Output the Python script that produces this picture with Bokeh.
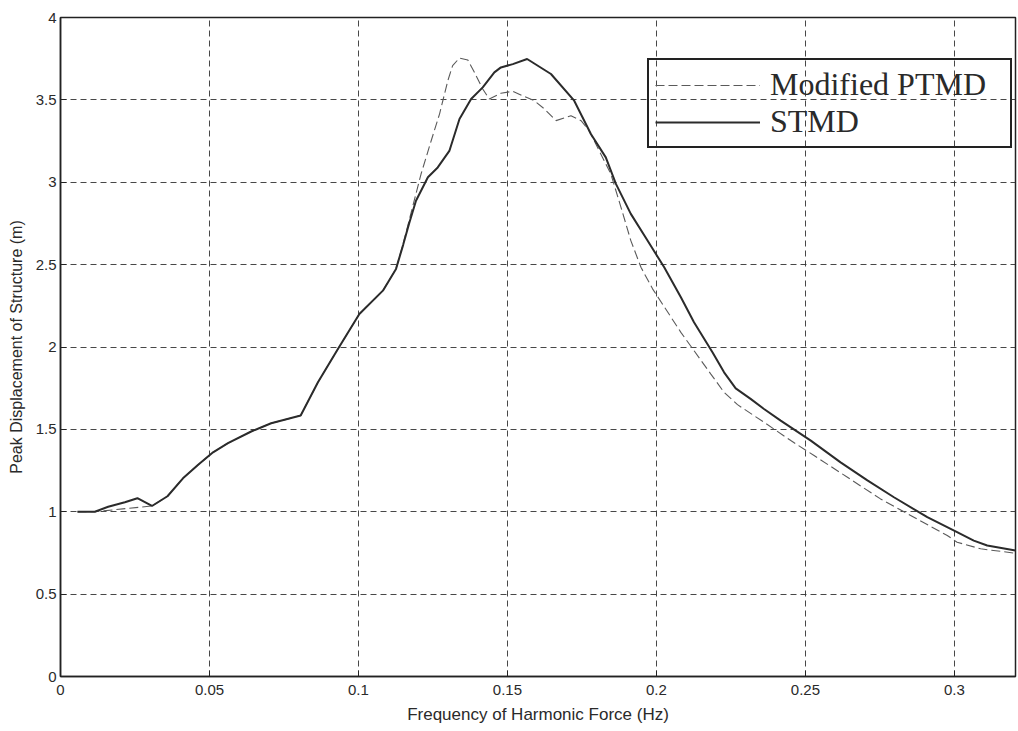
from bokeh.plotting import figure
from bokeh.models import Range1d, FixedTicker, CustomJSTickFormatter, Legend, LegendItem
from bokeh.embed import file_html
from bokeh.resources import INLINE

# Frequency response of the structure with two damper types
stmd_freq = [0.0057, 0.0115, 0.016, 0.0216, 0.0258, 0.0307, 0.0359, 0.0411, 0.0462, 0.0512,
             0.0562, 0.064, 0.0707, 0.0806, 0.0864, 0.0931, 0.1003, 0.1082, 0.1126, 0.1150,
             0.1170, 0.1193, 0.1233, 0.1266, 0.1305, 0.1339, 0.1378, 0.1417, 0.1456, 0.1478,
             0.1518, 0.1566, 0.1646, 0.1724, 0.178, 0.183, 0.1864, 0.1914, 0.197, 0.2026,
             0.2082, 0.2126, 0.2188, 0.2227, 0.2266, 0.2316, 0.2361, 0.2417, 0.2518, 0.2618,
             0.2708, 0.2797, 0.2909, 0.3009, 0.3065, 0.311, 0.3205]
stmd_disp = [1.00, 1.00, 1.03, 1.058, 1.082, 1.035, 1.094, 1.203, 1.285, 1.361,
             1.416, 1.487, 1.537, 1.584, 1.786, 1.988, 2.20, 2.342, 2.474, 2.62,
             2.75, 2.888, 3.03, 3.09, 3.19, 3.384, 3.505, 3.576, 3.667, 3.697,
             3.717, 3.748, 3.657, 3.495, 3.293, 3.151, 2.99, 2.808, 2.646, 2.484,
             2.302, 2.15, 1.968, 1.846, 1.749, 1.685, 1.624, 1.553, 1.432, 1.30,
             1.19, 1.088, 0.967, 0.876, 0.825, 0.795, 0.765]

ptmd_freq = [0.0057, 0.0115, 0.0307, 0.0359, 0.0411, 0.0462, 0.0512, 0.0562, 0.064, 0.0707,
             0.0806, 0.0864, 0.0931, 0.1003, 0.1082, 0.1126, 0.1149, 0.121, 0.1244, 0.1272,
             0.13, 0.1316, 0.1339, 0.1367, 0.1389, 0.1417, 0.1439, 0.1478, 0.1518, 0.1551,
             0.159, 0.1624, 0.1663, 0.1713, 0.1747, 0.1774, 0.1847, 0.1881, 0.1914, 0.1948,
             0.1987, 0.2082, 0.2126, 0.2182, 0.2227, 0.2272, 0.2361, 0.2451, 0.2529, 0.2641,
             0.2752, 0.2864, 0.2976, 0.3009, 0.3088, 0.3205]
ptmd_disp = [1.00, 1.00, 1.035, 1.094, 1.203, 1.285, 1.361, 1.416, 1.487, 1.537,
             1.584, 1.786, 1.988, 2.20, 2.342, 2.474, 2.62, 3.05, 3.252, 3.414,
             3.617, 3.708, 3.754, 3.742, 3.667, 3.566, 3.505, 3.54, 3.552, 3.525,
             3.495, 3.445, 3.374, 3.404, 3.374, 3.313, 3.05, 2.848, 2.646, 2.484,
             2.353, 2.089, 1.978, 1.837, 1.725, 1.650, 1.543, 1.432, 1.341, 1.209,
             1.078, 0.967, 0.856, 0.815, 0.775, 0.748]

x_ticks = [0, 0.05, 0.1, 0.15, 0.2, 0.25, 0.3]
y_ticks = [0, 0.5, 1, 1.5, 2, 2.5, 3, 3.5, 4]

p = figure(width=1018, height=731, output_backend="svg", toolbar_location=None,
           x_range=Range1d(0, 0.3205), y_range=Range1d(0, 4),
           min_border_left=60, min_border_right=3, min_border_top=17, min_border_bottom=55)
p.background_fill_color = "white"
p.border_fill_color = "white"
p.outline_line_color = "#222222"
p.outline_line_width = 1.5

strip = """
const s = tick.toFixed(3).replace(/0+$/, '').replace(/\\.$/, '');
return s;
"""
for ax, ticks in ((p.xaxis[0], x_ticks), (p.yaxis[0], y_ticks)):
    ax.ticker = FixedTicker(ticks=ticks)
    ax.formatter = CustomJSTickFormatter(code=strip)
    ax.major_tick_in = 6
    ax.major_tick_out = 0
    ax.minor_tick_in = 0
    ax.minor_tick_out = 0
    ax.axis_line_color = "#222222"
    ax.axis_line_width = 1.5
    ax.major_tick_line_color = "#222222"
    ax.major_label_text_font = "Liberation Sans"
    ax.major_label_text_font_size = "15px"
    ax.major_label_text_color = "#2a2a2a"
    ax.axis_label_text_font = "Liberation Sans"
    ax.axis_label_text_font_style = "normal"
    ax.axis_label_text_color = "#2a2a2a"

p.xaxis.axis_label = "Frequency of Harmonic Force (Hz)"
p.xaxis.axis_label_text_font_size = "17px"
p.xaxis.major_label_standoff = 8
p.xaxis.axis_label_standoff = 7
p.yaxis.axis_label = "Peak Displacement of Structure (m)"
p.yaxis.axis_label_text_font_size = "16px"
p.yaxis.major_label_standoff = 4
p.yaxis.axis_label_standoff = 8

for g in (p.xgrid[0], p.ygrid[0]):
    g.grid_line_color = "#333333"
    g.grid_line_dash = "6 4"
    g.grid_line_width = 1
    g.grid_line_alpha = 0.9

r_ptmd = p.line(ptmd_freq, ptmd_disp, line_color="#5a5a5a", line_width=1.1, line_dash="9 4")
r_stmd = p.line(stmd_freq, stmd_disp, line_color="#2b2b2b", line_width=2)

legend = Legend(items=[LegendItem(label="Modified PTMD", renderers=[r_ptmd]),
                       LegendItem(label="STMD", renderers=[r_stmd])],
                location=(587, 528))
legend.label_text_font = "Liberation Serif"
legend.label_text_font_size = "32px"
legend.label_text_color = "#2a2a2a"
legend.glyph_width = 105
legend.glyph_height = 28
legend.label_standoff = 10
legend.label_height = 28
legend.label_width = 234
legend.spacing = 0
legend.padding = 6
legend.margin = 0
legend.border_line_color = "#222222"
legend.border_line_alpha = 1.0
legend.border_line_width = 2
legend.background_fill_alpha = 0
p.add_layout(legend)

open("out.html", "w").write(file_html(p, INLINE))
